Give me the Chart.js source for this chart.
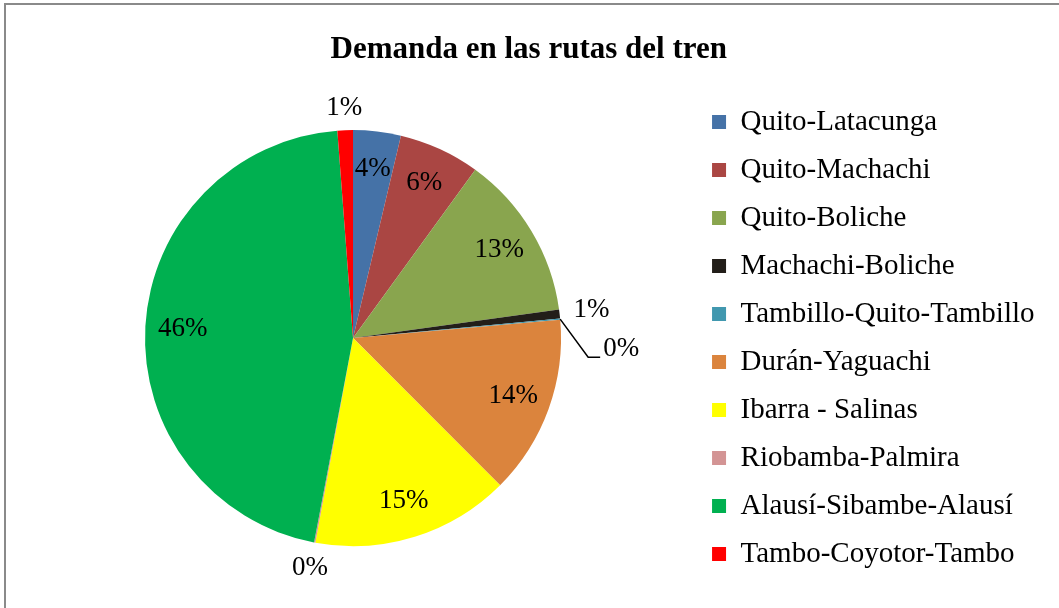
<!DOCTYPE html>
<html>
<head>
<meta charset="utf-8">
<title>Demanda en las rutas del tren</title>
<script src="https://cdn.jsdelivr.net/npm/chart.js"></script>
<style>
  html, body { margin: 0; padding: 0; background: #fff; }
  #wrap { width: 1059px; height: 608px; }
</style>
</head>
<body>
<div id="wrap"><canvas id="pie" width="1059" height="608"></canvas></div>
<script>
var rutas = ['Quito-Latacunga', 'Quito-Machachi', 'Quito-Boliche', 'Machachi-Boliche',
  'Tambillo-Quito-Tambillo', 'Durán-Yaguachi', 'Ibarra - Salinas', 'Riobamba-Palmira',
  'Alausí-Sibambe-Alausí', 'Tambo-Coyotor-Tambo'];
var demanda = [3.7, 6.3, 12.8, 0.7, 0.1, 13.9, 15.4, 0.1, 45.8, 1.2];
var colores = ['#4572A7', '#AA4643', '#89A54E', '#221E19', '#4198AF',
  '#DB843D', '#FFFF00', '#D39494', '#00B050', '#FF0000'];

// slices too thin for an inside label: distance past the rim
var fuera = { 3: 32, 7: 26, 9: 22 };
var conGuia = 4;

var marco = {
  id: 'marco',
  beforeDraw: function(chart) {
    var ctx = chart.ctx;
    ctx.save();
    ctx.fillStyle = '#8a8a8a';
    ctx.fillRect(4, 3, chart.width - 4, 2);
    ctx.fillRect(4, 3, 2, chart.height - 3);
    ctx.restore();
  }
};

var etiquetas = {
  id: 'etiquetas',
  afterDatasetsDraw: function(chart) {
    var ctx = chart.ctx;
    var meta = chart.getDatasetMeta(0);
    var total = demanda.reduce(function(a, b) { return a + b; }, 0);
    ctx.save();
    ctx.font = '27px "Liberation Serif"';
    ctx.fillStyle = '#000';
    ctx.strokeStyle = '#000';
    ctx.lineWidth = 1.5;
    ctx.textBaseline = 'middle';
    meta.data.forEach(function(arc, i) {
      var p = arc.getProps(['x', 'y', 'startAngle', 'endAngle', 'outerRadius'], true);
      var mid = (p.startAngle + p.endAngle) / 2;
      var cos = Math.cos(mid), sin = Math.sin(mid);
      var txt = Math.round(demanda[i] / total * 100) + '%';
      var r = p.outerRadius;
      if (i === conGuia) {
        var ex = p.x + r * cos, ey = p.y + r * sin;
        ctx.beginPath();
        ctx.moveTo(ex, ey);
        ctx.lineTo(ex + 28, ey + 38);
        ctx.lineTo(ex + 40, ey + 38);
        ctx.stroke();
        ctx.textAlign = 'left';
        ctx.fillText(txt, ex + 43, ey + 30);
        return;
      }
      var d = fuera[i] !== undefined ? r + fuera[i] : r * 0.82;
      ctx.textAlign = 'center';
      ctx.fillText(txt, p.x + d * cos, p.y + d * sin);
    });
    ctx.restore();
  }
};

function printPieChart() {
  var ctx = document.getElementById('pie');
  var mychart = new Chart(ctx, {
    type: 'pie',
    data: {
      labels: rutas,
      datasets: [{
        data: demanda,
        backgroundColor: colores,
        borderWidth: 0,
        hoverOffset: 0,
        radius: 208
      }]
    },
    options: {
      responsive: false,
      animation: false,
      devicePixelRatio: 1,
      layout: { padding: { left: 13, right: 14.5, top: 0, bottom: 0 } },
      plugins: {
        title: {
          display: true,
          text: 'Demanda en las rutas del tren',
          color: '#000',
          font: { family: '"Liberation Serif"', size: 31, weight: 'bold' },
          padding: { top: 31, bottom: 0 }
        },
        legend: {
          position: 'right',
          fullSize: false,
          labels: {
            color: '#000',
            font: { family: '"Liberation Serif"', size: 29 },
            boxWidth: 14,
            boxHeight: 14,
            padding: 19
          }
        },
        tooltip: { enabled: false }
      }
    },
    plugins: [marco, etiquetas]
  });
}

printPieChart();
</script>
</body>
</html>
